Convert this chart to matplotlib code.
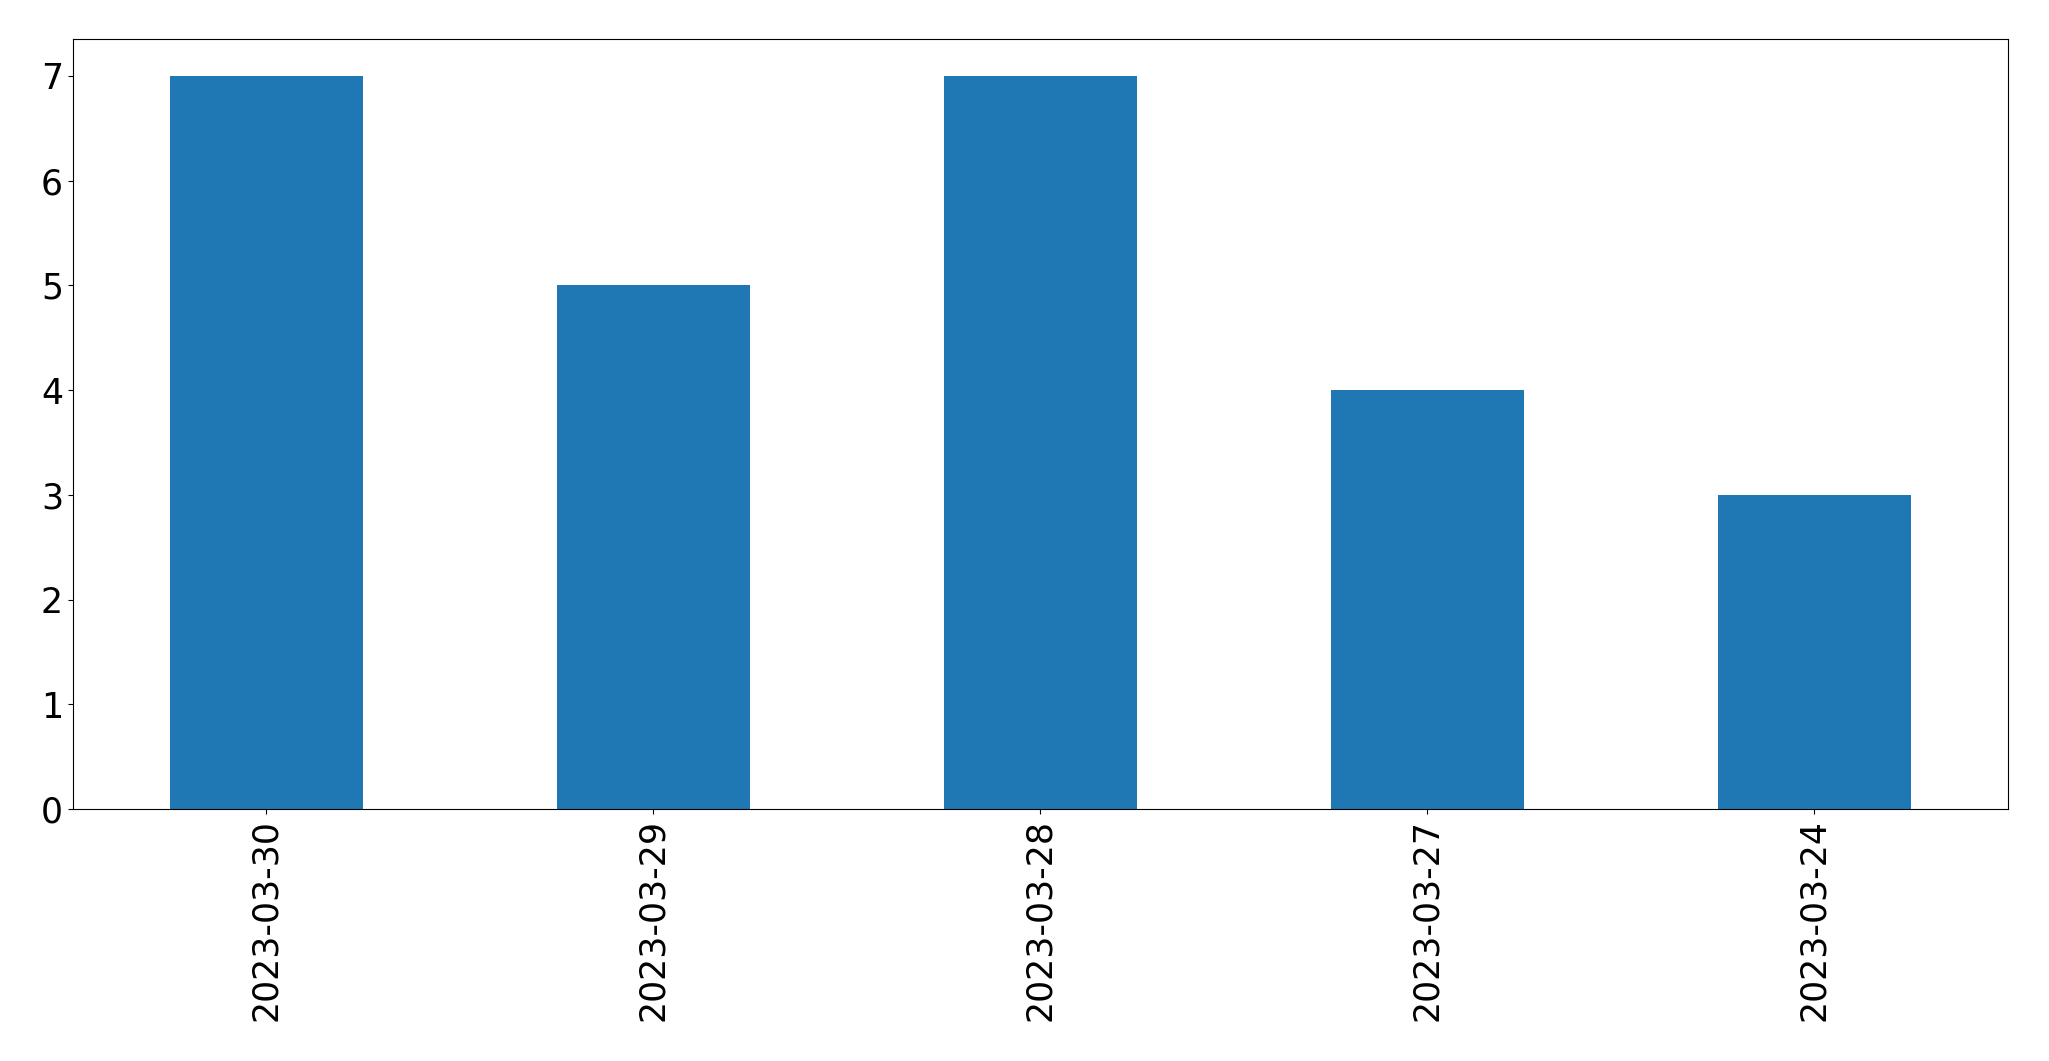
import matplotlib
matplotlib.use("Agg")
import matplotlib.pyplot as plt

dates = ["2023-03-30", "2023-03-29", "2023-03-28", "2023-03-27", "2023-03-24"]
counts = [7, 5, 7, 4, 3]

fig = plt.figure(figsize=(20.49, 10.61), dpi=100)
ax = fig.add_axes([0.0355, 0.2375, 0.9445, 0.7255])
x = list(range(len(dates)))
ax.bar(x, counts, width=0.5, color="#1f77b4")
ax.set_xlim(-0.5, len(dates) - 0.5)
ax.set_ylim(0, 7.35)
ax.set_xticks(x)
ax.set_xticklabels(dates, rotation=90)
ax.tick_params(labelsize=25)
fig.savefig("out.png", dpi=100)
